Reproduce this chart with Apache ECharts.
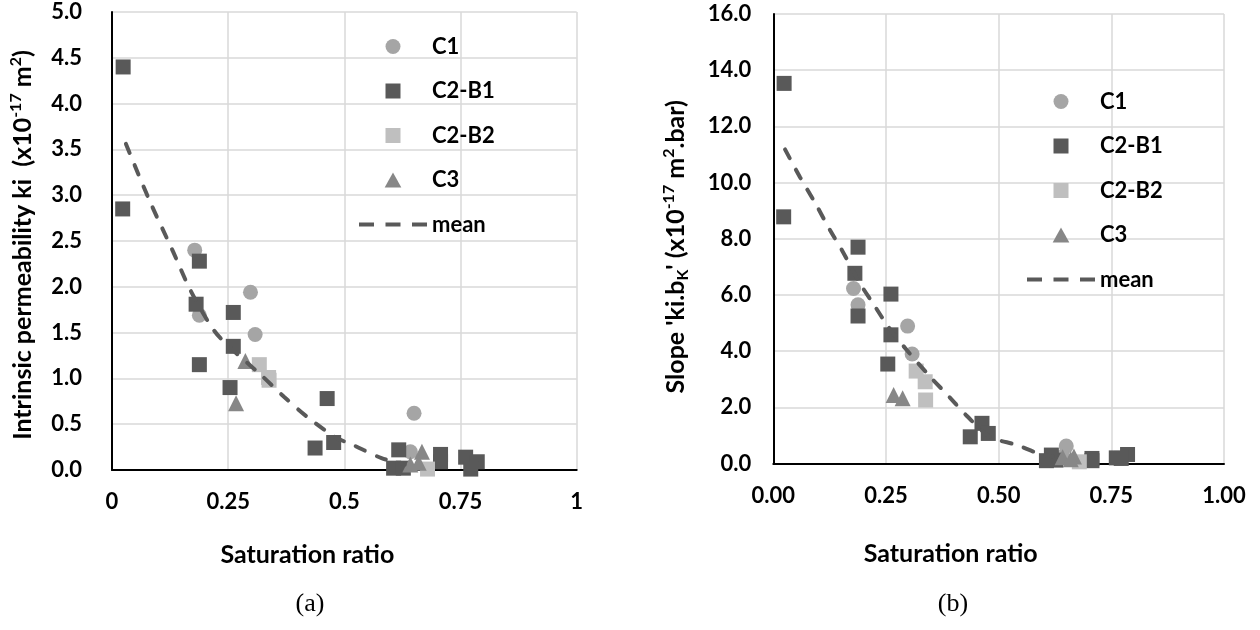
<!DOCTYPE html>
<html>
<head>
<meta charset="utf-8">
<script src="https://cdn.jsdelivr.net/npm/echarts@6/dist/echarts.min.js"></script>
<style>
html,body{margin:0;padding:0;background:#fff;}
#chart{width:1260px;height:630px;}
</style>
</head>
<body>
<div id="chart"></div>
<script>
// ---------- data ----------
const seriesNames = ['C1', 'C2-B1', 'C2-B2', 'C3', 'mean'];

// C1 (circles)
const c1X      = [0.178, 0.188, 0.298, 0.308, 0.650, 0.642];
const c1Ki     = [2.40, 1.69, 1.94, 1.48, 0.62, 0.20];
const c1Slope  = [6.23, 5.65, 4.89, 3.90, 0.62, 0.25];

// C2-B1 (dark squares)
const c2b1X     = [0.024, 0.023, 0.188, 0.181, 0.261, 0.261, 0.188, 0.254, 0.463, 0.437, 0.477, 0.617, 0.606, 0.627, 0.707, 0.707, 0.761, 0.786, 0.772];
const c2b1Ki    = [4.40, 2.85, 2.28, 1.81, 1.72, 1.35, 1.15, 0.90, 0.78, 0.24, 0.30, 0.22, 0.02, 0.02, 0.17, 0.09, 0.14, 0.09, 0.01];
const c2b1Slope = [13.53, 8.78, 7.70, 6.77, 6.03, 4.58, 5.25, 3.54, 1.43, 0.95, 1.07, 0.30, 0.10, 0.12, 0.18, 0.10, 0.20, 0.32, 0.18];

// C2-B2 (light squares)
const c2b2X     = [0.317, 0.337, 0.338, 0.679];
const c2b2Ki    = [1.15, 1.01, 0.98, 0.01];
const c2b2Slope = [3.29, 2.91, 2.26, 0.06];

// C3 (triangles)
const c3X     = [0.287, 0.267, 0.642, 0.667, 0.660];
const c3Ki    = [1.19, 0.73, 0.06, 0.20, 0.08];
const c3Slope = [2.32, 2.44, 0.22, 0.25, 0.15];

// mean curves
const meanKiX    = [0.03, 0.08, 0.13, 0.17, 0.22, 0.26, 0.32, 0.37, 0.42, 0.48, 0.52, 0.58, 0.63];
const meanKiY    = [3.56, 2.95, 2.40, 1.95, 1.52, 1.31, 1.04, 0.80, 0.58, 0.36, 0.27, 0.13, 0.06];
const meanSlopeX = [0.026, 0.059, 0.093, 0.126, 0.152, 0.192, 0.226, 0.255, 0.296, 0.348, 0.390, 0.429, 0.481, 0.540, 0.588, 0.620];
const meanSlopeY = [11.18, 10.20, 9.27, 8.30, 7.60, 6.42, 5.58, 4.87, 4.04, 3.09, 2.38, 1.70, 0.95, 0.66, 0.36, 0.25];

// tick labels
const leftXTickLabels  = ['0', '0.25', '0.5', '0.75', '1'];
const leftYTickLabels  = ['0.0', '0.5', '1.0', '1.5', '2.0', '2.5', '3.0', '3.5', '4.0', '4.5', '5.0'];
const rightXTickLabels = ['0.00', '0.25', '0.50', '0.75', '1.00'];
const rightYTickLabels = ['0.0', '2.0', '4.0', '6.0', '8.0', '10.0', '12.0', '14.0', '16.0'];

// ---------- build ----------
const zip = (xs, ys) => xs.map((x, i) => [x, ys[i]]);
const FONT = 'Lato';
const colors = { 'C1': '#a5a5a5', 'C2-B1': '#595959', 'C2-B2': '#bfbfbf', 'C3': '#878787', 'mean': '#595959' };
const symbols = { 'C1': 'circle', 'C2-B1': 'rect', 'C2-B2': 'rect', 'C3': 'triangle' };
const legendIcons = {
  'C1': 'circle',
  'C2-B1': 'path://M0,0H10V10H0Z',
  'C2-B2': 'path://M0,0H10V10H0Z',
  'C3': 'path://M5,0L10,9H0Z'
};

function scatter(name, data, idx) {
  return {
    name, type: 'scatter', xAxisIndex: idx, yAxisIndex: idx,
    symbol: symbols[name], symbolSize: name === 'C3' ? 16 : 15,
    itemStyle: { color: colors[name], opacity: 1 },
    data, z: 2
  };
}
function meanLine(data, idx) {
  return {
    name: 'mean', type: 'line', xAxisIndex: idx, yAxisIndex: idx,
    symbol: 'none', smooth: 0.3, data, z: 3,
    lineStyle: { color: colors.mean, width: 4, type: [10, 13], cap: 'round' },
    itemStyle: { color: 'rgba(0,0,0,0)' }
  };
}

const TICK_SIZE = 22;
const TITLE_SIZE = 25;
const YNAME_SIZE = 25;
const LEGEND_SIZE = 22;
const axisLabelStyle = { fontFamily: FONT, fontWeight: 'bold', fontSize: TICK_SIZE, color: '#000' };
const supStyle = { fontFamily: FONT, fontWeight: 'bold', fontSize: 16, color: '#000', verticalAlign: 'top', lineHeight: 17 };
const subStyle = { fontFamily: FONT, fontWeight: 'bold', fontSize: 16, color: '#000', verticalAlign: 'bottom', lineHeight: 17 };
function yNameStyle(shiftDown) {
  return {
    fontFamily: FONT, fontWeight: 'bold', fontSize: YNAME_SIZE, color: '#000', lineHeight: 30,
    padding: [0, shiftDown * 2, 0, 0],
    rich: { sup: supStyle, sub: subStyle }
  };
}
const splitLine = { show: true, lineStyle: { color: '#d9d9d9', width: 1.5 } };
const axisLine = { show: true, onZero: false, lineStyle: { color: '#000', width: 2 } };

function legendCfg(left, top) {
  return {
    data: seriesNames.map(n => n === 'mean' ? { name: n } : { name: n, icon: legendIcons[n] }),
    orient: 'vertical', left, top, itemWidth: 68, itemHeight: 15, itemGap: 17.5,
    symbolKeepAspect: true,
    lineStyle: { width: 4, type: [15, 11.5], cap: 'butt' },
    textStyle: { fontFamily: FONT, fontWeight: 'bold', fontSize: LEGEND_SIZE, color: '#000', lineHeight: 27 },
    selectedMode: false
  };
}

const option = {
  animation: false,
  backgroundColor: '#fff',
  title: [
    { text: '(a)', left: 305, top: 586, textAlign: 'center',
      textStyle: { fontFamily: 'Liberation Serif', fontWeight: 'normal', fontSize: 26, color: '#000' } },
    { text: '(b)', left: 948, top: 586, textAlign: 'center',
      textStyle: { fontFamily: 'Liberation Serif', fontWeight: 'normal', fontSize: 26, color: '#000' } }
  ],
  legend: [ legendCfg(352, 28), legendCfg(1020, 83) ],
  grid: [
    { left: 112, top: 12, right: 683.3, bottom: 160, containLabel: false },
    { left: 773.3, top: 14, right: 36, bottom: 166.5, containLabel: false }
  ],
  xAxis: [
    { type: 'value', gridIndex: 0, min: 0, max: 1, interval: 0.25,
      name: 'Saturation ratio', nameLocation: 'middle', nameGap: 72,
      nameTextStyle: { fontFamily: FONT, fontWeight: 'bold', fontSize: TITLE_SIZE, color: '#000', padding: [0, 74, 0, 0] },
      axisLine, axisTick: { show: false }, splitLine,
      axisLabel: Object.assign({ margin: 21, formatter: v => leftXTickLabels[Math.round(v / 0.25)] }, axisLabelStyle) },
    { type: 'value', gridIndex: 1, min: 0, max: 1, interval: 0.25,
      name: 'Saturation ratio', nameLocation: 'middle', nameGap: 78,
      nameTextStyle: { fontFamily: FONT, fontWeight: 'bold', fontSize: TITLE_SIZE, color: '#000', padding: [0, 96, 0, 0] },
      axisLine, axisTick: { show: false }, splitLine,
      axisLabel: Object.assign({ margin: 21, formatter: v => rightXTickLabels[Math.round(v / 0.25)] }, axisLabelStyle) }
  ],
  yAxis: [
    { type: 'value', gridIndex: 0, min: 0, max: 5, interval: 0.5,
      name: 'Intrinsic permeability ki  (x10{sup|-17} m{sup|2})', nameLocation: 'middle', nameGap: 74,
      nameTextStyle: yNameStyle(4),
      axisLine, axisTick: { show: false }, splitLine,
      axisLabel: Object.assign({ margin: 30, formatter: v => leftYTickLabels[Math.round(v / 0.5)] }, axisLabelStyle) },
    { type: 'value', gridIndex: 1, min: 0, max: 16, interval: 2,
      name: "Slope 'ki.b{sub|K}' (x10{sup|-17} m{sup|2}.bar)", nameLocation: 'middle', nameGap: 82,
      nameTextStyle: yNameStyle(8),
      axisLine, axisTick: { show: false }, splitLine,
      axisLabel: Object.assign({ margin: 22, formatter: v => rightYTickLabels[Math.round(v / 2)] }, axisLabelStyle) }
  ],
  series: [
    scatter('C1', zip(c1X, c1Ki), 0),
    scatter('C2-B1', zip(c2b1X, c2b1Ki), 0),
    scatter('C2-B2', zip(c2b2X, c2b2Ki), 0),
    scatter('C3', zip(c3X, c3Ki), 0),
    meanLine(zip(meanKiX, meanKiY), 0),
    scatter('C1', zip(c1X, c1Slope), 1),
    scatter('C2-B1', zip(c2b1X, c2b1Slope), 1),
    scatter('C2-B2', zip(c2b2X, c2b2Slope), 1),
    scatter('C3', zip(c3X, c3Slope), 1),
    meanLine(zip(meanSlopeX, meanSlopeY), 1)
  ]
};

const chart = echarts.init(document.getElementById('chart'), null, { renderer: 'canvas' });
chart.setOption(option);
</script>
</body>
</html>
